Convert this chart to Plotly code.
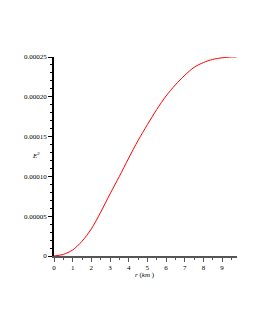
import plotly.graph_objects as go

r_km = [0, 0.5, 1, 1.5, 2, 2.5, 3, 3.5, 4, 4.5, 5, 5.5, 6, 6.5, 7, 7.5, 8, 8.5, 9, 9.5, 9.77]
E2 = [0, 0.000002, 0.0000075, 0.0000185, 0.000034, 0.000055, 0.000078, 0.0001,
      0.000123, 0.000145, 0.000165, 0.000184, 0.000201, 0.000215, 0.000227,
      0.000237, 0.000243, 0.000247, 0.000249, 0.00025, 0.00025]

y_tickvals = [0, 0.00005, 0.0001, 0.00015, 0.0002, 0.00025]
y_ticktext = ["0", "0.00005", "0.00010", "0.00015", "0.00020", "0.00025"]
x_tickvals = [0, 1, 2, 3, 4, 5, 6, 7, 8, 9]
x_ticktext = ["0", "1", "2", "3", "4", "5", "6", "7", "8", "9"]

font_fam = "Liberation Serif, Times New Roman, serif"

OFF = 8  # default page body margin
W, H = 255 - OFF, 330 - OFF
L = 54 - OFF
T = 57 - OFF
R = W - (237 - OFF)
B = H - (256 - OFF)
pw = W - L - R
ph = H - T - B


def px_to_paper(px, py):
    return ((px - OFF) - L) / pw, (H - B - (py - OFF)) / ph


ex, ey = px_to_paper(36, 155)
rx, ry = px_to_paper(145, 275)

fig = go.Figure()
fig.add_trace(go.Scatter(x=r_km, y=E2, mode="lines",
                         line=dict(color="#ff0000", width=1, shape="spline", smoothing=0.8),
                         showlegend=False, hoverinfo="skip"))

tf = dict(family=font_fam, size=7, color="black")
fig.update_layout(
    template="none",
    width=W, height=H,
    margin=dict(l=L, r=R, t=T, b=B, autoexpand=False),
    paper_bgcolor="white", plot_bgcolor="white",
    font=tf,
    xaxis=dict(range=[0, 9.8], showgrid=False, zeroline=False, automargin=False,
               showline=True, linecolor="#555555", linewidth=2,
               tickvals=x_tickvals, ticktext=x_ticktext, ticks="outside", ticklen=4,
               tickcolor="#555555", tickwidth=1,
               minor=dict(dtick=0.5, tick0=0, ticks="outside", ticklen=2, tickcolor="#555555"),
               tickfont=tf),
    yaxis=dict(range=[0, 0.00025], showgrid=False, zeroline=False, automargin=False,
               showline=True, linecolor="black", linewidth=1.5,
               tickvals=y_tickvals, ticktext=y_ticktext, ticks="outside", ticklen=4,
               tickcolor="black", tickwidth=1,
               minor=dict(dtick=0.00001, tick0=0, ticks="outside", ticklen=2, tickcolor="black"),
               tickfont=tf),
    annotations=[
        dict(text="<i>E</i><sup>2</sup>", x=ex, y=ey, xanchor="center", yanchor="middle",
             xref="paper", yref="paper", showarrow=False, font=tf),
        dict(text="<i>r</i> (<i>km</i> )", x=rx, y=ry, xanchor="center", yanchor="middle",
             xref="paper", yref="paper", showarrow=False, font=tf),
    ],
)

fig.write_html("out.html")
